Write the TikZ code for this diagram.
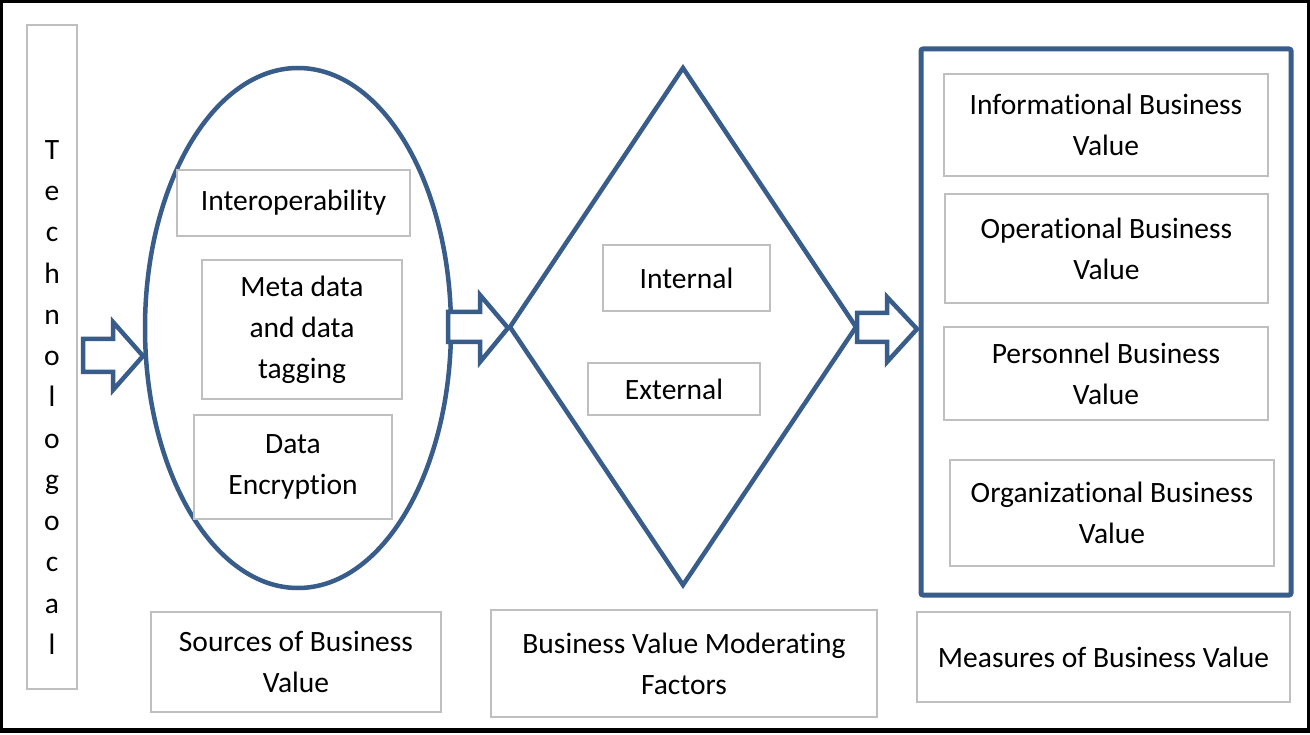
\documentclass[tikz,border=0pt]{standalone}
\usepackage{fontspec}
\setmainfont{Carlito}[Ligatures={NoCommon},RawFeature={-liga;-clig}]
\definecolor{wblue}{HTML}{385D8A}
\definecolor{wgray}{HTML}{BFBFBF}
\begin{document}
\begin{tikzpicture}[x=1pt,y=-1pt,
  gbox/.style={draw=wgray,line width=2pt,fill=white,inner sep=0pt,align=center,
    font=\fontsize{29.5}{41}\selectfont},
  bshape/.style={draw=wblue,line width=4.5pt},
  blockarrow/.style={draw=wblue,line width=4.5pt,fill=white,line join=miter}]
\useasboundingbox (0,0) rectangle (1310,735);
\fill[white] (0,0) rectangle (1310,735);
% outer frame
\draw[line width=3pt] (1.5,1.5) rectangle (1308.5,730.5);
\draw[line width=5pt] (0,730.5) -- (1310,730.5);
% technological column
\node[gbox,minimum width=50pt,minimum height=664pt] (tech) at (52,357) {};
\node[inner sep=0pt,align=center,font=\fontsize{29.5}{41.25}\selectfont,anchor=center] (techtxt) at (52,397.5)
  {T\\e\\c\\h\\n\\o\\l\\o\\g\\o\\c\\a\\l};
% ellipse
\draw[bshape] (298,328) ellipse [x radius=153, y radius=260];
% diamond
\draw[bshape,line join=miter] (510,327) -- (683,68) -- (856,327) -- (683,585) -- cycle;
% big rectangle
\draw[draw=wblue,line width=5pt,rounded corners=2pt] (921,49) rectangle (1291,595);
% arrows
\draw[blockarrow] (83,339) -- (113,339) -- (113,322) -- (143,356) -- (113,390) -- (113,372) -- (83,372) -- cycle;
\draw[blockarrow] (448,312) -- (480,312) -- (480,295) -- (508,328) -- (480,362) -- (480,342) -- (448,342) -- cycle;
\draw[blockarrow] (857,313) -- (887,313) -- (887,297) -- (917,329) -- (887,362) -- (887,342) -- (857,342) -- cycle;
% ellipse boxes
\node[gbox,minimum width=233pt,minimum height=66pt] (interop) at (293.5,203) {Interoperability};
\node[gbox,minimum width=200pt,minimum height=139pt] (meta) at (302,329.5) {Meta data\\and data\\tagging};
\node[gbox,minimum width=198pt,minimum height=104pt] (enc) at (293,467) {Data\\Encryption};
% diamond boxes
\node[gbox,minimum width=167pt,minimum height=66pt] (int) at (686.5,278) {Internal};
\node[gbox,minimum width=172pt,minimum height=52pt] (ext) at (674,389) {External};
% measure boxes
\node[gbox,minimum width=324pt,minimum height=102pt] (info) at (1106,125) {Informational Business\\Value};
\node[gbox,minimum width=323pt,minimum height=109pt] (oper) at (1106.5,248.5) {Operational Business\\Value};
\node[gbox,minimum width=324pt,minimum height=93pt] (pers) at (1106,373.5) {Personnel Business\\Value};
\node[gbox,minimum width=324pt,minimum height=106pt] (org) at (1112,513) {Organizational Business\\Value};
% bottom labels
\node[gbox,minimum width=290pt,minimum height=100pt] (src) at (296,662) {Sources of Business\\Value};
\node[gbox,minimum width=386pt,minimum height=107pt] (mod) at (684,663.5) {Business Value Moderating\\Factors};
\node[gbox,minimum width=373pt,minimum height=90pt] (meas) at (1103.5,657) {Measures of Business Value};
\end{tikzpicture}
\end{document}
